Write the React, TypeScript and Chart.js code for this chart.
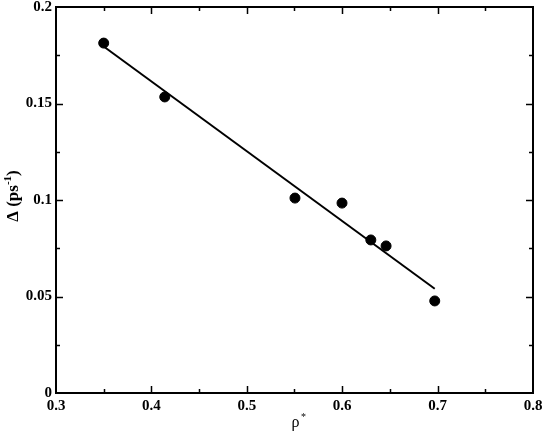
import React, { useEffect, useRef } from "react";
import { Chart, registerables } from "chart.js";

Chart.register(...registerables);

const rhoValues = [0.350, 0.414, 0.5505, 0.5998, 0.630, 0.646, 0.697];
const deltaValues = [0.1813, 0.1534, 0.1010, 0.0984, 0.0793, 0.0762, 0.0477];
const fitX = [0.350, 0.697];
const fitY = [0.1795, 0.0540];
const xTickValues = [0.3, 0.4, 0.5, 0.6, 0.7, 0.8];
const yTickValues = [0, 0.05, 0.1, 0.15, 0.2];
const xTickLabels = ["0.3", "0.4", "0.5", "0.6", "0.7", "0.8"];
const yTickLabels = ["0", "0.05", "0.1", "0.15", "0.2"];

const SERIF = "'Liberation Serif', 'Times New Roman', serif";

const framePlugin = {
  id: "framePlugin",
  afterDraw(chart: any) {
    const ctx = chart.ctx;
    const xs = chart.scales.x;
    const ys = chart.scales.y;
    const { left, right, top, bottom } = chart.chartArea;
    ctx.save();
    ctx.strokeStyle = "#000";
    ctx.lineWidth = 2;
    ctx.strokeRect(left, top, right - left, bottom - top);
    ctx.lineWidth = 1.5;
    const major = 7;
    const minor = 4;
    for (let v = 0.3; v <= 0.8001; v += 0.05) {
      const isMajor = Math.abs(Math.round(v * 10) - v * 10) < 1e-6;
      const len = isMajor ? major : minor;
      const px = Math.round(xs.getPixelForValue(v)) + 0.5;
      if (px <= left + 1 || px >= right - 1) continue;
      ctx.beginPath();
      ctx.moveTo(px, bottom);
      ctx.lineTo(px, bottom - len);
      ctx.moveTo(px, top);
      ctx.lineTo(px, top + len);
      ctx.stroke();
    }
    for (let v = 0; v <= 0.2001; v += 0.025) {
      const isMajor = Math.abs(Math.round(v * 20) - v * 20) < 1e-6;
      const len = isMajor ? major : minor;
      const py = Math.round(ys.getPixelForValue(v)) + 0.5;
      if (py <= top + 1 || py >= bottom - 1) continue;
      ctx.beginPath();
      ctx.moveTo(left, py);
      ctx.lineTo(left + len, py);
      ctx.moveTo(right, py);
      ctx.lineTo(right - len, py);
      ctx.stroke();
    }
    ctx.fillStyle = "#000";
    ctx.font = `bold 15px ${SERIF}`;
    ctx.textAlign = "center";
    ctx.textBaseline = "top";
    xTickValues.forEach((v, i) => {
      ctx.fillText(xTickLabels[i], xs.getPixelForValue(v), bottom + 6);
    });
    ctx.textAlign = "right";
    ctx.textBaseline = "middle";
    yTickValues.forEach((v, i) => {
      ctx.fillText(yTickLabels[i], left - 4, ys.getPixelForValue(v));
    });
    const cx = (left + right) / 2;
    ctx.font = `16px ${SERIF}`;
    ctx.textAlign = "center";
    ctx.textBaseline = "alphabetic";
    ctx.fillText("ρ", cx + 1, 427);
    ctx.font = `10px ${SERIF}`;
    ctx.fillText("*", cx + 9, 420);
    ctx.save();
    ctx.translate(18, (top + bottom) / 2 - 4);
    ctx.rotate(-Math.PI / 2);
    ctx.font = `bold 17px ${SERIF}`;
    const main = "Δ (ps";
    const sup = "-1";
    const close = ")";
    const wMain = ctx.measureText(main).width;
    ctx.font = `bold 11px ${SERIF}`;
    const wSup = ctx.measureText(sup).width;
    ctx.font = `bold 17px ${SERIF}`;
    const wClose = ctx.measureText(close).width;
    const total = wMain + wSup + wClose;
    let x0 = -total / 2;
    ctx.textAlign = "left";
    ctx.fillText(main, x0, 0);
    x0 += wMain;
    ctx.font = `bold 11px ${SERIF}`;
    ctx.fillText(sup, x0, -7);
    x0 += wSup;
    ctx.font = `bold 17px ${SERIF}`;
    ctx.fillText(close, x0, 0);
    ctx.restore();
    ctx.restore();
  },
};

export default function App() {
  const ref = useRef<HTMLCanvasElement>(null);
  useEffect(() => {
    if (!ref.current) return;
    const chart = new Chart(ref.current, {
      type: "scatter",
      data: {
        datasets: [
          {
            label: "data",
            data: rhoValues.map((x, i) => ({ x, y: deltaValues[i] })),
            backgroundColor: "#000",
            borderColor: "#000",
            pointRadius: 5,
            pointHoverRadius: 5,
            showLine: false,
          },
          {
            label: "fit",
            data: fitX.map((x, i) => ({ x, y: fitY[i] })),
            borderColor: "#000",
            borderWidth: 2,
            pointRadius: 0,
            showLine: true,
          },
        ],
      },
      options: {
        responsive: false,
        animation: false,
        events: [],
        layout: { padding: { top: 7, right: 12, left: 0, bottom: 0 } },
        plugins: { legend: { display: false }, tooltip: { enabled: false } },
        scales: {
          x: {
            type: "linear",
            min: 0.3,
            max: 0.8,
            grid: { display: false },
            border: { display: false },
            ticks: { display: false },
            afterFit: (s: any) => {
              s.height = 43;
            },
          },
          y: {
            type: "linear",
            min: 0,
            max: 0.2,
            grid: { display: false },
            border: { display: false },
            ticks: { display: false },
            afterFit: (s: any) => {
              s.width = 56;
            },
          },
        },
      },
      plugins: [framePlugin],
    });
    return () => chart.destroy();
  }, []);
  return (
    <div style={{ position: "fixed", left: 0, top: 0, width: 545, height: 436, background: "#fff" }}>
      <canvas ref={ref} width={545} height={436} />
    </div>
  );
}
